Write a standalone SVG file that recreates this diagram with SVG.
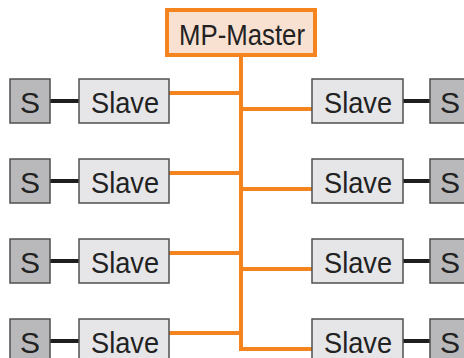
<svg xmlns="http://www.w3.org/2000/svg" width="464" height="358" viewBox="0 0 464 358">
<style>
.bus{stroke:#f5841f;stroke-width:4;fill:none}
.lnk{stroke:#1e1e1e;stroke-width:4}
.s{fill:#b9b9bb;stroke:#505050;stroke-width:1.5}
.sl{fill:#e6e6e8;stroke:#505050;stroke-width:1.5}
.t{font-family:"Liberation Sans",Arial,sans-serif;font-size:30px;fill:#222;text-anchor:middle}
</style>
<rect width="464" height="358" fill="#fff"/>
<g id="connectors">
<path class="bus" d="M241 55V349H312"/>
<path class="bus" d="M169 93H241M169 173H241M169 253H241M169 333H241"/>
<path class="bus" d="M241 109H312M241 189H312M241 269H312"/>
<path class="lnk" d="M50 101H79M50 181H79M50 261H79M50 341H79"/>
<path class="lnk" d="M403 101H430M403 181H430M403 261H430M403 341H430"/>
</g>
<g id="master">
<rect x="167" y="10" width="148" height="45" fill="#f9e1d1" stroke="#f5841f" stroke-width="4"/>
<text class="t" x="242" y="44.5" font-size="28" textLength="126" lengthAdjust="spacingAndGlyphs">MP-Master</text>
</g>
<g id="sL1"><rect class="s" x="10" y="79" width="40" height="44"/><text class="t" x="30" y="113">S</text></g>
<g id="slaveL1"><rect class="sl" x="79" y="79" width="90" height="44"/><text class="t" x="125" y="113" textLength="68" lengthAdjust="spacingAndGlyphs">Slave</text></g>
<g id="slaveR1"><rect class="sl" x="312" y="79" width="91" height="44"/><text class="t" x="358" y="113" textLength="68" lengthAdjust="spacingAndGlyphs">Slave</text></g>
<g id="sR1"><rect class="s" x="430" y="79" width="40" height="44"/><text class="t" x="450" y="113">S</text></g>
<g id="sL2"><rect class="s" x="10" y="159" width="40" height="44"/><text class="t" x="30" y="193">S</text></g>
<g id="slaveL2"><rect class="sl" x="79" y="159" width="90" height="44"/><text class="t" x="125" y="193" textLength="68" lengthAdjust="spacingAndGlyphs">Slave</text></g>
<g id="slaveR2"><rect class="sl" x="312" y="159" width="91" height="44"/><text class="t" x="358" y="193" textLength="68" lengthAdjust="spacingAndGlyphs">Slave</text></g>
<g id="sR2"><rect class="s" x="430" y="159" width="40" height="44"/><text class="t" x="450" y="193">S</text></g>
<g id="sL3"><rect class="s" x="10" y="239" width="40" height="44"/><text class="t" x="30" y="273">S</text></g>
<g id="slaveL3"><rect class="sl" x="79" y="239" width="90" height="44"/><text class="t" x="125" y="273" textLength="68" lengthAdjust="spacingAndGlyphs">Slave</text></g>
<g id="slaveR3"><rect class="sl" x="312" y="239" width="91" height="44"/><text class="t" x="358" y="273" textLength="68" lengthAdjust="spacingAndGlyphs">Slave</text></g>
<g id="sR3"><rect class="s" x="430" y="239" width="40" height="44"/><text class="t" x="450" y="273">S</text></g>
<g id="sL4"><rect class="s" x="10" y="319" width="40" height="44"/><text class="t" x="30" y="353">S</text></g>
<g id="slaveL4"><rect class="sl" x="79" y="319" width="90" height="44"/><text class="t" x="125" y="353" textLength="68" lengthAdjust="spacingAndGlyphs">Slave</text></g>
<g id="slaveR4"><rect class="sl" x="312" y="319" width="91" height="44"/><text class="t" x="358" y="353" textLength="68" lengthAdjust="spacingAndGlyphs">Slave</text></g>
<g id="sR4"><rect class="s" x="430" y="319" width="40" height="44"/><text class="t" x="450" y="353">S</text></g>
</svg>
